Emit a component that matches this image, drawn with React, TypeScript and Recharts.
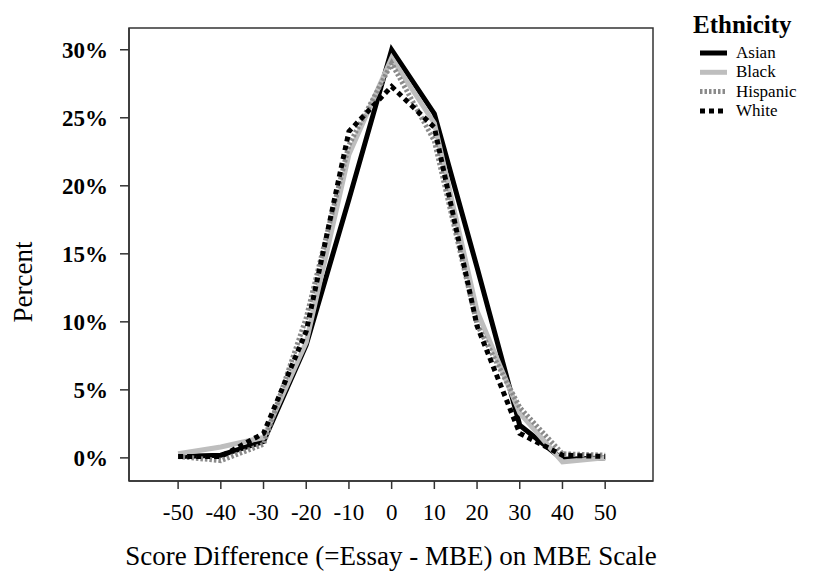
import React from "react";
import { LineChart, Line, XAxis, YAxis, ReferenceArea } from "recharts";

const scoreDiff = [-50, -40, -30, -20, -10, 0, 10, 20, 30, 40, 50];
const asian = [0.1, 0.2, 1.2, 8.3, 19.0, 30.0, 25.3, 14.0, 2.4, -0.1, 0.0];
const black = [0.3, 0.8, 1.5, 8.5, 22.3, 29.4, 24.6, 10.8, 3.3, -0.3, 0.0];
const hispanic = [0.1, -0.2, 1.0, 10.3, 23.0, 29.0, 23.3, 9.8, 3.7, 0.3, 0.2];
const white = [0.1, 0.1, 1.8, 9.3, 24.0, 27.3, 24.3, 9.7, 1.8, 0.2, 0.1];
const yTicks = [0, 5, 10, 15, 20, 25, 30];

const FONT = "'Liberation Serif', 'Times New Roman', serif";

const series = [
  { key: "asian", name: "Asian", color: "#000000", dash: undefined },
  { key: "black", name: "Black", color: "#bebebe", dash: undefined },
  { key: "hispanic", name: "Hispanic", color: "#8a8a8a", dash: "2.5 2" },
  { key: "white", name: "White", color: "#000000", dash: "5 4" },
];

const data = scoreDiff.map((x, i) => ({
  x,
  asian: asian[i],
  black: black[i],
  hispanic: hispanic[i],
  white: white[i],
}));

function LegendBox() {
  return (
    <svg width={125} height={130} style={{ position: "absolute", left: 690, top: 0 }}>
      <text x={3} y={33} fontFamily={FONT} fontWeight="bold" fontSize={25} fill="#000">
        Ethnicity
      </text>
      {series.map((s, i) => {
        const y = 53 + i * 19.3;
        return (
          <g key={s.key}>
            <line
              x1={10}
              x2={37}
              y1={y}
              y2={y}
              stroke={s.color}
              strokeWidth={5}
              strokeDasharray={s.dash}
            />
            <text x={46} y={y + 5} fontFamily={FONT} fontSize={17} fill="#000">
              {s.name}
            </text>
          </g>
        );
      })}
    </svg>
  );
}

// y-axis title sits a bit below the plot's middle in the original
const PercentLabel = () => (
  <text
    x={23}
    y={282}
    transform="rotate(-90, 23, 282)"
    textAnchor="middle"
    dominantBaseline="central"
    fontFamily={FONT}
    fontSize={27}
    fill="#000"
  >
    Percent
  </text>
);

export default function App() {
  return (
    <div style={{ position: "absolute", left: 0, top: 0, width: 815, height: 575, background: "#fff" }}>
      <LineChart
        width={815}
        height={575}
        data={data}
        margin={{ top: 28, right: 162, bottom: 0, left: 0 }}
      >
        <XAxis
          dataKey="x"
          type="number"
          domain={[-61.5, 61.2]}
          allowDataOverflow
          ticks={scoreDiff}
          height={94}
          tickSize={8}
          tickMargin={15}
          stroke="#333"
          strokeWidth={1.5}
          tick={{ fill: "#000", fontSize: 23, fontFamily: FONT }}
          label={{
            value: "Score Difference (=Essay - MBE) on MBE Scale",
            position: "insideBottom",
            offset: 10,
            fill: "#000",
            fontSize: 27,
            fontFamily: FONT,
          }}
        />
        <YAxis
          type="number"
          domain={[-1.7, 31.6]}
          allowDataOverflow
          ticks={yTicks}
          width={129}
          tickSize={9}
          tickMargin={12}
          stroke="#333"
          strokeWidth={1.5}
          tickFormatter={(v) => `${v}%`}
          tick={{ fill: "#000", fontSize: 23, fontWeight: "bold", fontFamily: FONT }}
          label={<PercentLabel />}
        />
        <ReferenceArea
          x1={-61.5}
          x2={61.2}
          y1={-1.7}
          y2={31.6}
          fill="none"
          stroke="#333"
          strokeWidth={1.5}
          ifOverflow="visible"
        />
        {series.map((s) => (
          <Line
            key={s.key}
            dataKey={s.key}
            name={s.name}
            stroke={s.color}
            strokeWidth={5}
            strokeDasharray={s.dash}
            dot={false}
            activeDot={false}
            type="linear"
            isAnimationActive={false}
          />
        ))}
      </LineChart>
      <LegendBox />
    </div>
  );
}
